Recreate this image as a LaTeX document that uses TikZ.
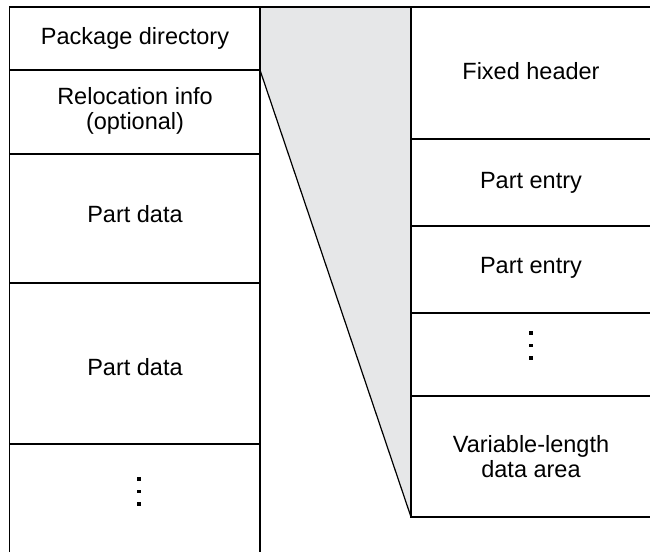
\documentclass[tikz,border=0pt]{standalone}
\usepackage{fontspec}
\setmainfont{Liberation Sans}
\definecolor{wedge}{HTML}{E6E7E8}
\begin{document}
\begin{tikzpicture}[x=1pt,y=-1pt,line width=1.2pt,
  lbl/.style={font=\fontsize{23.5}{25}\selectfont, align=center, inner sep=0pt},
  dot/.style={fill=black, minimum size=3.8pt, inner sep=0pt, draw=none, rectangle}]
\useasboundingbox (0,0) rectangle (650,552);
% wedge
\fill[wedge] (260,7) -- (411,7) -- (411,517) -- (260,70) -- cycle;
% left column
\draw (9.5,552) -- (9.5,7) -- (650,7);
\draw (260,7) -- (260,552);
\foreach \yy in {70,154,283,444} \draw (9.5,\yy) -- (260,\yy);
% right column
\draw (411,7) -- (411,517) -- (650,517);
\foreach \yy in {139,226,313,396} \draw (411,\yy) -- (650,\yy);
% wedge diagonal
\coordinate (wa) at (260,70);
\coordinate (wb) at (411,517);
\draw (wa) -- (wb);
% labels
\node[lbl] (pd) at (135,38.5) {Package directory};
\node[lbl] (ri) at (135,111) {Relocation info\\(optional)};
\node[lbl] (pa1) at (135,214) {Part data};
\node[lbl] (pa2) at (135,367) {Part data};
\node[lbl] (fh) at (531,71) {Fixed header};
\node[lbl] (pe1) at (531,183) {Part entry};
\node[lbl] (pe2) at (531,268) {Part entry};
\node[lbl] (vl) at (531,457) {Variable-length\\data area};
% dots
\node[dot] (ld1) at (139,479) {};
\node[dot] (ld2) at (139,491.5) {};
\node[dot] (ld3) at (139,504) {};
\node[dot] (rd1) at (531,333) {};
\node[dot] (rd2) at (531,345.5) {};
\node[dot] (rd3) at (531,358) {};
\end{tikzpicture}
\end{document}
